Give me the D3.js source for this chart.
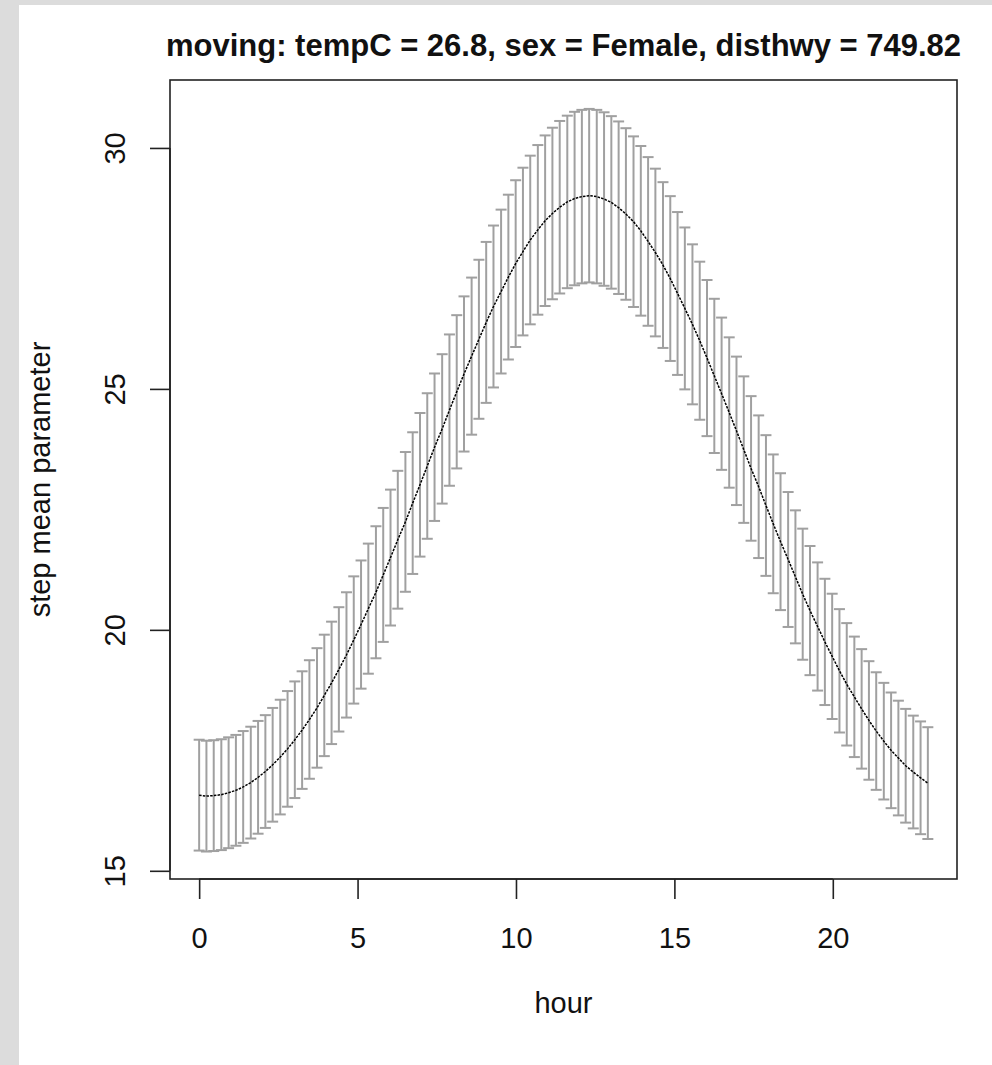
<!DOCTYPE html>
<html>
<head>
<meta charset="utf-8">
<script src="https://cdn.jsdelivr.net/npm/d3@7/dist/d3.min.js"></script>
<style>
  html, body { margin: 0; padding: 0; background: #dcdcdc; }
  svg { display: block; }
  text { font-family: "Liberation Sans", Arial, sans-serif; fill: #111; }
</style>
</head>
<body>
<script>
// ---- data ----
const title = "moving: tempC = 26.8, sex = Female, disthwy = 749.82";
const xLabel = "hour";
const yLabel = "step mean parameter";
const xTicks = [0, 5, 10, 15, 20];
const yTicks = [15, 20, 25, 30];

const hours = [0.00,0.23,0.46,0.70,0.93,1.16,1.39,1.63,1.86,2.09,
  2.32,2.56,2.79,3.02,3.25,3.48,3.72,3.95,4.18,4.41,
  4.65,4.88,5.11,5.34,5.58,5.81,6.04,6.27,6.51,6.74,
  6.97,7.20,7.43,7.67,7.90,8.13,8.36,8.60,8.83,9.06,
  9.29,9.53,9.76,9.99,10.22,10.45,10.69,10.92,11.15,11.38,
  11.62,11.85,12.08,12.31,12.55,12.78,13.01,13.24,13.47,13.71,
  13.94,14.17,14.40,14.64,14.87,15.10,15.33,15.57,15.80,16.03,
  16.26,16.49,16.73,16.96,17.19,17.42,17.66,17.89,18.12,18.35,
  18.59,18.82,19.05,19.28,19.52,19.75,19.98,20.21,20.44,20.68,
  20.91,21.14,21.37,21.61,21.84,22.07,22.30,22.54,22.77,23.00];

const stepMean = [16.57,16.55,16.56,16.58,16.62,16.67,16.74,16.83,16.94,17.06,
  17.20,17.36,17.53,17.72,17.92,18.14,18.38,18.64,18.90,19.18,
  19.48,19.79,20.11,20.44,20.78,21.14,21.50,21.87,22.24,22.63,
  23.01,23.40,23.79,24.17,24.56,24.94,25.31,25.68,26.03,26.38,
  26.71,27.02,27.32,27.60,27.85,28.09,28.30,28.49,28.64,28.77,
  28.88,28.95,28.99,29.01,28.99,28.94,28.87,28.76,28.63,28.47,
  28.28,28.06,27.83,27.57,27.29,26.98,26.67,26.34,26.00,25.64,
  25.27,24.90,24.51,24.13,23.74,23.35,22.97,22.58,22.20,21.83,
  21.46,21.10,20.74,20.40,20.07,19.75,19.45,19.15,18.87,18.61,
  18.36,18.12,17.90,17.69,17.50,17.34,17.18,17.05,16.93,16.82];

const lower = [15.42,15.40,15.41,15.43,15.47,15.52,15.58,15.67,15.77,15.89,
  16.02,16.17,16.33,16.51,16.70,16.91,17.14,17.38,17.63,17.89,
  18.18,18.47,18.78,19.09,19.41,19.75,20.09,20.44,20.79,21.16,
  21.52,21.89,22.26,22.62,22.99,23.35,23.70,24.05,24.38,24.71,
  25.03,25.32,25.61,25.87,26.11,26.34,26.54,26.72,26.86,26.98,
  27.09,27.15,27.19,27.21,27.19,27.14,27.08,26.97,26.85,26.70,
  26.52,26.31,26.09,25.85,25.58,25.29,24.99,24.68,24.36,24.02,
  23.67,23.32,22.95,22.59,22.22,21.85,21.49,21.12,20.76,20.41,
  20.06,19.72,19.38,19.06,18.74,18.44,18.15,17.87,17.60,17.36,
  17.12,16.89,16.68,16.48,16.30,16.15,16.00,15.88,15.76,15.66];

const upper = [17.72,17.70,17.71,17.73,17.77,17.82,17.90,17.99,18.11,18.23,
  18.38,18.55,18.73,18.93,19.14,19.37,19.62,19.90,20.17,20.47,
  20.78,21.11,21.44,21.79,22.15,22.53,22.91,23.30,23.69,24.10,
  24.50,24.91,25.32,25.72,26.13,26.53,26.92,27.31,27.68,28.05,
  28.39,28.72,29.03,29.33,29.59,29.84,30.06,30.26,30.42,30.56,
  30.67,30.75,30.79,30.81,30.79,30.74,30.66,30.55,30.41,30.24,
  30.04,29.81,29.57,29.29,29.00,28.67,28.35,28.00,27.64,27.26,
  26.87,26.48,26.07,25.67,25.26,24.85,24.45,24.04,23.64,23.25,
  22.86,22.48,22.10,21.74,21.40,21.06,20.75,20.43,20.14,19.86,
  19.60,19.35,19.12,18.90,18.70,18.53,18.36,18.22,18.10,17.98];

// ---- layout ----
const W = 992, H = 1065;
const plot = { left: 170, right: 957, top: 80, bottom: 879 };

const n = Math.min(hours.length, stepMean.length, lower.length, upper.length);
const idx = d3.range(n);

const xMin = d3.min(hours), xMax = d3.max(hours);
const xPad = (xMax - xMin) * 0.04;
const x = d3.scaleLinear().domain([xMin - xPad, xMax + xPad]).range([plot.left, plot.right]);
const y = d3.scaleLinear().domain([14.83, 31.41]).range([plot.bottom, plot.top]);

const svg = d3.select("body").append("svg").attr("width", W).attr("height", H);

// gray frame + white panel
svg.append("rect").attr("x", 0).attr("y", 0).attr("width", W).attr("height", H).attr("fill", "#dcdcdc");
svg.append("rect").attr("x", 19).attr("y", 5).attr("width", W - 19).attr("height", H - 5).attr("fill", "#ffffff");

// error bars
const barColor = "#a0a0a0";
const capHalf = 5.5;
const bars = svg.append("g").attr("stroke", barColor).attr("stroke-width", 2).attr("fill", "none");
bars.selectAll("line.v").data(idx).join("line").attr("class", "v")
  .attr("x1", i => x(hours[i])).attr("x2", i => x(hours[i]))
  .attr("y1", i => y(lower[i])).attr("y2", i => y(upper[i]));
bars.selectAll("line.top").data(idx).join("line").attr("class", "top")
  .attr("x1", i => x(hours[i]) - capHalf).attr("x2", i => x(hours[i]) + capHalf)
  .attr("y1", i => y(upper[i])).attr("y2", i => y(upper[i]));
bars.selectAll("line.bot").data(idx).join("line").attr("class", "bot")
  .attr("x1", i => x(hours[i]) - capHalf).attr("x2", i => x(hours[i]) + capHalf)
  .attr("y1", i => y(lower[i])).attr("y2", i => y(lower[i]));

// mean line
const line = d3.line().x(i => x(hours[i])).y(i => y(stepMean[i]));
svg.append("path").datum(idx).attr("d", line)
  .attr("fill", "none").attr("stroke", "#000").attr("stroke-width", 1.5)
  .attr("stroke-dasharray", "2.5,1.2");

// box
svg.append("rect")
  .attr("x", plot.left).attr("y", plot.top)
  .attr("width", plot.right - plot.left).attr("height", plot.bottom - plot.top)
  .attr("fill", "none").attr("stroke", "#222").attr("stroke-width", 1.6);

// axes
const fs = 29;
const xAxis = d3.axisBottom(x).tickValues(xTicks).tickSize(20).tickPadding(28).tickFormat(d3.format("d"));
const gx = svg.append("g").attr("transform", `translate(0,${plot.bottom})`).call(xAxis);
gx.select(".domain").attr("d", `M${x(xTicks[0])},0H${x(xTicks[xTicks.length-1])}`).attr("stroke", "#222").attr("stroke-width", 1.6);
gx.selectAll(".tick line").attr("stroke", "#222").attr("stroke-width", 1.6);
gx.selectAll(".tick text").attr("font-size", fs).attr("font-family", "Liberation Sans, Arial, sans-serif").attr("fill", "#111");

const yAxis = d3.axisLeft(y).tickValues(yTicks).tickSize(20).tickPadding(0).tickFormat(d3.format("d"));
const gy = svg.append("g").attr("transform", `translate(${plot.left},0)`).call(yAxis);
gy.select(".domain").attr("d", `M0,${y(yTicks[0])}V${y(yTicks[yTicks.length-1])}`).attr("stroke", "#222").attr("stroke-width", 1.6);
gy.selectAll(".tick line").attr("stroke", "#222").attr("stroke-width", 1.6);
gy.selectAll(".tick text")
  .attr("font-size", fs).attr("font-family", "Liberation Sans, Arial, sans-serif").attr("fill", "#111")
  .attr("x", null)
  .attr("text-anchor", "middle")
  .attr("transform", "translate(-45,0) rotate(-90)")
  .attr("dy", "0");

// title
svg.append("text").attr("x", (plot.left + plot.right) / 2).attr("y", 56)
  .attr("text-anchor", "middle").attr("font-weight", "bold").attr("font-size", 31)
  .text(title);

// axis labels
svg.append("text").attr("x", (plot.left + plot.right) / 2).attr("y", 1013)
  .attr("text-anchor", "middle").attr("font-size", fs).text(xLabel);
svg.append("text").attr("transform", `translate(50,${(plot.top + plot.bottom) / 2}) rotate(-90)`)
  .attr("text-anchor", "middle").attr("font-size", fs).text(yLabel);
</script>
</body>
</html>
